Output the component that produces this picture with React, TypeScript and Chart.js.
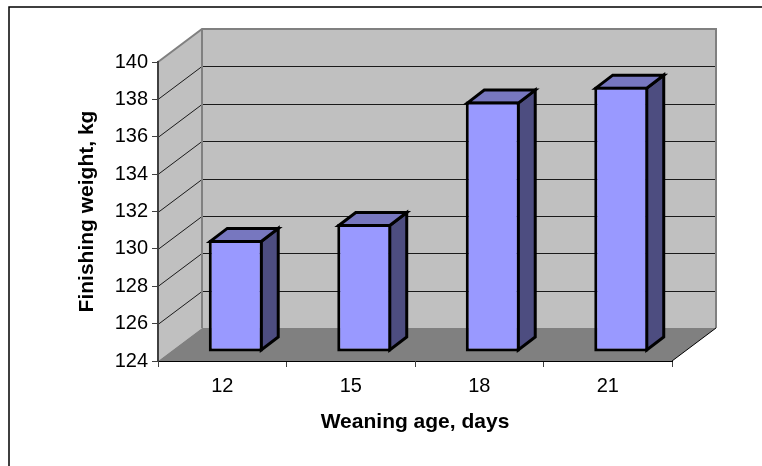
import React, { useEffect, useRef } from "react";
import { Chart, registerables } from "chart.js";

Chart.register(...registerables);

const categories = ["12", "15", "18", "21"];
const finishingWeight = [130.0, 130.85, 137.4, 138.2];
const yMin = 124;
const yMax = 140;
const yStep = 2;
const xTitle = "Weaning age, days";
const yTitle = "Finishing weight, kg";

const FONT = "'Liberation Sans', Arial, sans-serif";
const DEPTH_X = 44;
const DEPTH_Y = 33;
const BAR_SHIFT_X = 13.5;
const BAR_SHIFT_Y = 9;
const BAR_DEPTH_X = 17;
const BAR_DEPTH_Y = 13;
const BAR_LINE = 3;

const scene3d = {
  id: "scene3d",
  beforeDraw(chart: any) {
    const { ctx, chartArea: a, scales } = chart;
    const { left: l, right: r, top: t, bottom: b } = a;
    const dx = DEPTH_X;
    const dy = DEPTH_Y;
    ctx.save();
    ctx.fillStyle = "#ffffff";
    ctx.fillRect(0, 0, chart.width, chart.height);

    // outer frame
    ctx.strokeStyle = "#000000";
    ctx.lineWidth = 1.5;
    ctx.beginPath();
    ctx.moveTo(9, chart.height);
    ctx.lineTo(9, 7);
    ctx.lineTo(chart.width, 7);
    ctx.stroke();

    // walls
    ctx.fillStyle = "#c0c0c0";
    ctx.fillRect(l + dx, t - dy, r - l, b - t);
    ctx.beginPath();
    ctx.moveTo(l, t);
    ctx.lineTo(l + dx, t - dy);
    ctx.lineTo(l + dx, b - dy);
    ctx.lineTo(l, b);
    ctx.closePath();
    ctx.fill();

    // floor
    ctx.fillStyle = "#808080";
    ctx.beginPath();
    ctx.moveTo(l, b);
    ctx.lineTo(r, b);
    ctx.lineTo(r + dx, b - dy);
    ctx.lineTo(l + dx, b - dy);
    ctx.closePath();
    ctx.fill();

    // gridlines
    ctx.strokeStyle = "#1a1a1a";
    ctx.lineWidth = 1;
    for (const tick of scales.y.ticks) {
      if (tick.value === yMin || tick.value === yMax) continue;
      const y = Math.round(scales.y.getPixelForValue(tick.value)) + 0.5;
      ctx.beginPath();
      ctx.moveTo(l, y);
      ctx.lineTo(l + dx, y - dy);
      ctx.lineTo(r + dx, y - dy);
      ctx.stroke();
    }

    // wall edges
    ctx.strokeStyle = "#808080";
    ctx.lineWidth = 2;
    ctx.beginPath();
    ctx.moveTo(l, t);
    ctx.lineTo(l + dx, t - dy);
    ctx.lineTo(r + dx, t - dy);
    ctx.lineTo(r + dx, b - dy);
    ctx.moveTo(l + dx, t - dy);
    ctx.lineTo(l + dx, b - dy);
    ctx.stroke();

    ctx.strokeStyle = "#000000";
    ctx.lineWidth = 1;
    ctx.beginPath();
    ctx.moveTo(r, b);
    ctx.lineTo(r + dx, b - dy);
    ctx.stroke();
    ctx.restore();
  },
  beforeDatasetsDraw(chart: any) {
    const { ctx } = chart;
    ctx.save();
    ctx.translate(BAR_SHIFT_X, -BAR_SHIFT_Y);
    ctx.lineWidth = BAR_LINE;
    ctx.lineJoin = "miter";
    ctx.strokeStyle = "#000000";
    for (const el of chart.getDatasetMeta(0).data) {
      const p = el.getProps(["x", "y", "base", "width"], true);
      const inset = BAR_LINE / 2;
      const x0 = p.x - p.width / 2 + inset;
      const x1 = p.x + p.width / 2 - inset;
      const y0 = p.y + inset;
      const y1 = p.base - inset;
      // side
      ctx.fillStyle = "#4d4d80";
      ctx.beginPath();
      ctx.moveTo(x1, y0);
      ctx.lineTo(x1 + BAR_DEPTH_X, y0 - BAR_DEPTH_Y);
      ctx.lineTo(x1 + BAR_DEPTH_X, y1 - BAR_DEPTH_Y);
      ctx.lineTo(x1, y1);
      ctx.closePath();
      ctx.fill();
      ctx.stroke();
      // top
      ctx.fillStyle = "#7777bf";
      ctx.beginPath();
      ctx.moveTo(x0, y0);
      ctx.lineTo(x0 + BAR_DEPTH_X, y0 - BAR_DEPTH_Y);
      ctx.lineTo(x1 + BAR_DEPTH_X, y0 - BAR_DEPTH_Y);
      ctx.lineTo(x1, y0);
      ctx.closePath();
      ctx.fill();
      ctx.stroke();
    }
  },
  afterDatasetsDraw(chart: any) {
    chart.ctx.restore();
  },
};

export default function App() {
  const ref = useRef<HTMLCanvasElement>(null);
  useEffect(() => {
    const chart = new Chart(ref.current as HTMLCanvasElement, {
      type: "bar",
      data: {
        labels: categories,
        datasets: [
          {
            data: finishingWeight,
            base: yMin,
            backgroundColor: "#9999ff",
            borderColor: "#000000",
            borderWidth: BAR_LINE,
            borderSkipped: false,
            categoryPercentage: 0.42,
            barPercentage: 1,
            clip: false,
          } as any,
        ],
      },
      options: {
        responsive: false,
        animation: false,
        devicePixelRatio: 1,
        layout: { padding: { left: 0, right: 90, top: 62, bottom: 0 } },
        plugins: { legend: { display: false }, tooltip: { enabled: false }, title: { display: false } },
        scales: {
          x: {
            afterFit(s: any) {
              s.height = 105;
            },
            grid: { drawOnChartArea: false, drawTicks: true, tickLength: 6, color: "#404040", offset: true },
            border: { display: true, color: "#000000", width: 1 },
            ticks: { color: "#000000", font: { family: FONT, size: 20 }, padding: 7, maxRotation: 0 },
            title: {
              display: true,
              text: xTitle,
              color: "#000000",
              font: { family: FONT, size: 21, weight: "bold" },
              padding: { top: 0, bottom: 31 },
            },
          },
          y: {
            min: yMin,
            max: yMax,
            afterFit(s: any) {
              s.width = 158;
            },
            grid: { drawOnChartArea: false, drawTicks: true, tickLength: 6, color: "#404040" },
            border: { display: true, color: "#404040", width: 2 },
            ticks: { stepSize: yStep, color: "#000000", font: { family: FONT, size: 20 }, padding: 4 },
            title: {
              display: true,
              text: yTitle,
              color: "#000000",
              font: { family: FONT, size: 21, weight: "bold" },
              padding: { top: 75, bottom: 0 },
            },
          },
        },
      },
      plugins: [scene3d],
    } as any);
    return () => chart.destroy();
  }, []);
  return (
    <div style={{ position: "fixed", left: 0, top: 0, width: 762, height: 466, background: "#fff" }}>
      <canvas ref={ref} width={762} height={466} style={{ display: "block" }} />
    </div>
  );
}
